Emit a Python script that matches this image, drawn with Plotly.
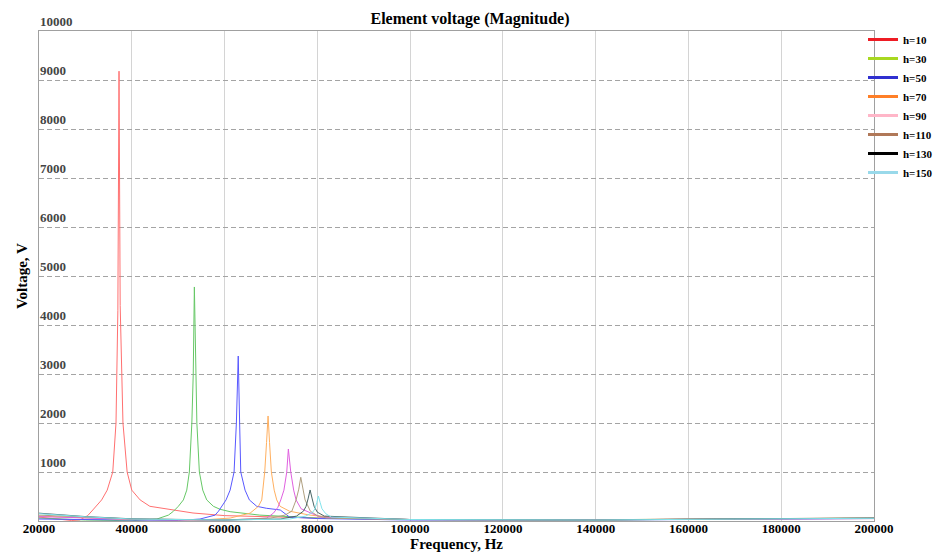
import plotly.graph_objects as go

# ---- data ----
series_names = ["h=10", "h=30", "h=50", "h=70", "h=90", "h=110", "h=130", "h=150"]

h10_f = [20000, 24000, 27000, 28800, 30500, 31600, 33500, 34700, 35900, 36600, 37000, 37250, 37500, 38100, 39000,
         40000, 41800, 43900, 46100, 53200, 60000, 70000, 80000, 100000, 140000, 170000, 200000]
h10_v = [80, 40, 10, 20, 110, 225, 430, 630, 1000, 2000, 4300, 9180, 4400, 2000, 1000,
         630, 430, 300, 265, 163, 110, 80, 60, 30, 25, 40, 50]

h30_f = [20000, 30000, 40000, 45400, 47900, 49000, 50040, 51120, 51850, 52410, 52950, 53250, 53490, 53750, 54030,
         54570, 55300, 56160, 57590, 59000, 61200, 67600, 80000, 100000, 140000, 170000, 200000]
h30_v = [60, 20, 5, 40, 120, 200, 300, 430, 630, 1000, 2000, 3000, 4776, 3000, 2000,
         1000, 630, 430, 300, 240, 190, 120, 60, 30, 25, 45, 55]

h50_f = [20000, 40000, 50000, 54700, 57950, 58700, 59400, 60320, 61200, 62050, 62550, 62950, 63250, 63490,
         64420, 65350, 66940, 69000, 72000, 74000, 80000, 100000, 140000, 170000, 200000]
h50_v = [40, 10, 10, 40, 120, 200, 300, 430, 630, 1000, 2000, 3367, 2000, 1000,
         630, 430, 300, 260, 225, 80, 50, 20, 20, 40, 50]

h70_f = [20000, 40000, 55000, 61200, 65500, 67300, 68020, 68300, 68660, 69050, 69380, 69700, 70090,
         70700, 71250, 71970, 74000, 78400, 85000, 100000, 140000, 170000, 200000]
h70_v = [100, 30, 20, 60, 160, 300, 430, 630, 1000, 1600, 2143, 1600, 1000,
         630, 430, 300, 200, 120, 60, 30, 25, 45, 60]

h90_f = [20000, 40000, 60000, 69100, 70530, 71500, 72120, 72800, 73410, 73757, 74270, 74900, 75420, 76500,
         80600, 100000, 140000, 170000, 200000]
h90_v = [90, 35, 15, 60, 160, 280, 430, 630, 1000, 1469, 1000, 630, 430, 250,
         80, 30, 25, 40, 55]

h110_f = [20000, 40000, 60000, 70000, 73000, 74500, 75420, 76000, 76430, 76900, 77360, 78500, 80000, 82000,
          100000, 140000, 170000, 200000]
h110_v = [120, 40, 20, 60, 120, 200, 430, 650, 892, 650, 430, 200, 110, 60,
          30, 20, 40, 60]

h130_f = [20000, 30000, 40000, 46000, 60000, 72000, 75500, 77000, 77570, 78000, 78440, 78900, 79300, 80000, 81500,
          100000, 140000, 170000, 200000]
h130_v = [160, 90, 45, 35, 20, 40, 100, 200, 300, 450, 633, 450, 300, 180, 100,
          30, 20, 45, 60]

h150_f = [20000, 30000, 40000, 46000, 60000, 74000, 77500, 79000, 79500, 79900, 80230, 80600, 81000, 81800, 83000,
          100000, 140000, 170000, 200000]
h150_v = [150, 85, 40, 30, 20, 40, 100, 180, 250, 380, 510, 380, 250, 150, 80,
          30, 20, 40, 55]

freqs = [h10_f, h30_f, h50_f, h70_f, h90_f, h110_f, h130_f, h150_f]
volts = [h10_v, h30_v, h50_v, h70_v, h90_v, h110_v, h130_v, h150_v]

# colours as the thin curves appear in the plot, and as the legend swatches appear
curve_colors = ["#ff7070", "#66c866", "#5858ff", "#ffb060", "#e060e0", "#b0a080", "#4a6666", "#80e4ec"]
legend_colors = ["#ee1c24", "#a8d820", "#3030d0", "#ff7f27", "#ffb6c8", "#b07858", "#000000", "#99d9ea"]

y_tick_vals = [1000, 2000, 3000, 4000, 5000, 6000, 7000, 8000, 9000, 10000]
x_tick_vals = [20000, 40000, 60000, 80000, 100000, 120000, 140000, 160000, 180000, 200000]

SERIF = "Liberation Serif"
# the page body adds an 8px margin, so the figure itself is 8px smaller on each side
W, H = 936, 547

fig = go.Figure()
for name, f, v, c in zip(series_names, freqs, volts, curve_colors):
    fig.add_trace(go.Scatter(x=f, y=v, mode="lines", name=name, showlegend=False,
                             line=dict(color=c, width=1)))
for name, c in zip(series_names, legend_colors):
    fig.add_trace(go.Scatter(x=[None], y=[None], mode="lines", name=name,
                             line=dict(color=c, width=3)))

fig.update_layout(
    width=W, height=H,
    margin=dict(l=31, r=70, t=23, b=34, autoexpand=False),
    paper_bgcolor="white", plot_bgcolor="white",
    font=dict(family=SERIF, color="black", size=12),
    title=dict(text="Element voltage (Magnitude)", x=462 / W, xanchor="center",
               xref="container", yref="container",
               y=1 - 10 / H, yanchor="middle", font=dict(size=16, family=SERIF, weight="bold")),
    legend=dict(x=855 / W, xanchor="left", y=1 - 17 / H, yanchor="top",
                xref="container", yref="container",
                font=dict(size=11, family=SERIF, weight="bold"), bgcolor="rgba(0,0,0,0)",
                itemwidth=30, tracegroupgap=0),
    showlegend=True,
)
fig.update_xaxes(
    range=[20000, 200000], tickvals=x_tick_vals, ticktext=[str(t) for t in x_tick_vals],
    showgrid=True, gridcolor="#d4d4d4", gridwidth=1,
    showline=True, linecolor="#a0a0a0", linewidth=1, mirror=True,
    ticks="", zeroline=False, automargin=False, ticklabeloverflow="allow",
    ticklabelstandoff=-5,
    tickfont=dict(size=13, family=SERIF, weight="bold"),
    title=dict(text="Frequency, Hz", font=dict(size=15, family=SERIF, weight="bold"), standoff=2),
)
fig.update_yaxes(
    range=[0, 10000], tickvals=y_tick_vals, ticktext=[str(t) for t in y_tick_vals],
    ticklabelposition="inside top", ticklabeloverflow="allow",
    showgrid=True, gridcolor="#a4a4a4", gridwidth=1, griddash="5px,3px",
    showline=True, linecolor="#a0a0a0", linewidth=1, mirror=True,
    ticks="", zeroline=False, automargin=False,
    tickfont=dict(size=13, family=SERIF, weight="bold"),
    title=dict(text="Voltage, V", font=dict(size=15, family=SERIF, weight="bold"), standoff=8),
)

fig.write_html("out.html")
